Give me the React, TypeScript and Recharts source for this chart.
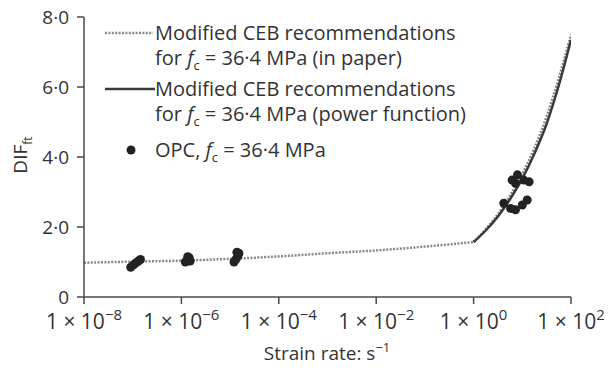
import React from 'react';
import { ComposedChart, Line, Scatter, XAxis, YAxis, Legend } from 'recharts';

// log10 of strain rate on x, DIF_ft on y
const FONT = '"Open Sans", "Noto Sans", sans-serif';
const INK = '#333';

const xTicks = [-8, -6, -4, -2, 0, 2];
const yTicks = [0, 2, 4, 6, 8];

// Modified CEB recommendations (in paper) – dotted
const paperLogRate = [-8, -7, -6, -5, -4, -3, -2, -1, 0, 0.25, 0.5, 0.75, 1, 1.25, 1.5, 1.75, 2];
const paperDif = [0.98, 1.01, 1.04, 1.09, 1.16, 1.25, 1.33, 1.44, 1.57, 1.94, 2.37, 2.9, 3.52, 4.26, 5.16, 6.26, 7.5];

// Modified CEB recommendations (power function) – solid
const powerLogRate = [0, 0.25, 0.5, 0.75, 1, 1.25, 1.5, 1.75, 2];
const powerDif = [1.57, 1.9, 2.3, 2.8, 3.38, 4.1, 4.95, 6.05, 7.35];

// OPC test results
const opcLogRate = [
  -7.04, -6.98, -6.93, -6.88, -6.84,
  -5.92, -5.88, -5.84, -5.87, -5.82,
  -4.92, -4.88, -4.84, -4.82, -4.86,
  0.79, 0.9, 1.03, 1.14, 0.86,
  0.62, 0.76, 0.86, 1.0, 1.1,
];
const opcDif = [
  0.85, 0.92, 0.98, 1.03, 1.07,
  1.0, 1.06, 1.12, 1.15, 1.03,
  1.0, 1.08, 1.17, 1.25, 1.28,
  3.34, 3.49, 3.34, 3.29, 3.25,
  2.68, 2.53, 2.49, 2.63, 2.77,
];

const paper = paperLogRate.map((x, i) => ({ x, y: paperDif[i] }));
const paperLow = paper.filter((p) => p.x <= 0);
const paperHigh = paper.filter((p) => p.x >= 0);
const power = powerLogRate.map((x, i) => ({ x, y: powerDif[i] }));
const opc = opcLogRate.map((x, i) => ({ x, y: opcDif[i] }));

const XTick = (props: any) => {
  const { x, y, payload } = props;
  const v = payload.value as number;
  const exp = v < 0 ? '\u2212' + Math.abs(v) : String(v);
  return (
    <text x={x} y={y + 25} textAnchor="middle" fontSize={21} fill={INK} fontFamily={FONT}>
      1 × 10<tspan dy={-9} fontSize={15}>{exp}</tspan>
    </text>
  );
};

const Fc = () => (
  <>
    <i>f</i>
    <span style={{ fontSize: 13, position: 'relative', top: 5 }}>c</span>
  </>
);

const LegendBox = () => (
  <div style={{ position: 'relative', width: 500, height: 170, fontFamily: FONT, fontSize: 20, color: INK, lineHeight: '25px' }}>
    <svg style={{ position: 'absolute', left: 105, top: 30 }} width={48} height={6}>
      <line x1={0} y1={3} x2={48} y2={3} stroke="#888" strokeWidth={2.5} strokeDasharray="2 1.4" />
    </svg>
    <div style={{ position: 'absolute', left: 155, top: 20, whiteSpace: 'nowrap' }}>
      Modified CEB recommendations<br />for <Fc /> = 36·4 MPa (in paper)
    </div>
    <svg style={{ position: 'absolute', left: 105, top: 86 }} width={50} height={6}>
      <line x1={0} y1={3} x2={50} y2={3} stroke="#3a3a3a" strokeWidth={2.5} />
    </svg>
    <div style={{ position: 'absolute', left: 155, top: 76, whiteSpace: 'nowrap' }}>
      Modified CEB recommendations<br />for <Fc /> = 36·4 MPa (power function)
    </div>
    <svg style={{ position: 'absolute', left: 125, top: 144 }} width={12} height={12}>
      <circle cx={6} cy={6} r={4.5} fill="#222" />
    </svg>
    <div style={{ position: 'absolute', left: 155, top: 137, whiteSpace: 'nowrap' }}>
      OPC, <Fc /> = 36·4 MPa
    </div>
  </div>
);

const Dot = (props: any) => <circle cx={props.cx} cy={props.cy} r={4.5} fill="#222" />;

export default function App() {
  return (
    <div style={{ position: 'absolute', left: 0, top: 0, width: 611, height: 370, background: '#fff' }}>
      <ComposedChart width={611} height={370} margin={{ top: 17, right: 40, bottom: 0, left: 0 }}>
        <XAxis
          type="number"
          dataKey="x"
          domain={[-8, 2]}
          ticks={xTicks}
          allowDataOverflow
          height={73}
          tickSize={7}
          tickMargin={0}
          tick={<XTick />}
          axisLine={{ stroke: '#4a4a4a', strokeWidth: 1.5 }}
          tickLine={{ stroke: '#4a4a4a', strokeWidth: 1.5 }}
        />
        <YAxis
          type="number"
          dataKey="y"
          domain={[0, 8]}
          ticks={yTicks}
          allowDataOverflow
          width={84}
          tickSize={7}
          tickMargin={8}
          tickFormatter={(v: number) => (v === 0 ? '0' : `${v}·0`)}
          tick={{ fontSize: 19, fill: INK, fontFamily: FONT }}
          axisLine={{ stroke: '#4a4a4a', strokeWidth: 1.5 }}
          tickLine={{ stroke: '#4a4a4a', strokeWidth: 1.5 }}
        />
        <Legend
          layout="vertical"
          align="center"
          verticalAlign="middle"
          wrapperStyle={{ left: 0, top: 0, width: 500, height: 170 }}
          content={() => <LegendBox />}
        />
        <Line data={paperLow} dataKey="y" type="monotone" stroke="#888" strokeWidth={2.5} strokeDasharray="2 1.4" dot={false} isAnimationActive={false} />
        <Line data={paperHigh} dataKey="y" type="monotone" stroke="#888" strokeWidth={2.5} strokeDasharray="2 1.4" dot={false} isAnimationActive={false} />
        <Line data={power} dataKey="y" type="monotone" stroke="#3a3a3a" strokeWidth={2.5} dot={false} isAnimationActive={false} />
        <Scatter data={opc} dataKey="y" shape={<Dot />} isAnimationActive={false} />
        <text x={27} y={155} transform="rotate(-90 27 155)" textAnchor="middle" fontSize={19} fill={INK} fontFamily={FONT}>
          DIF<tspan fontSize={12} dy={5}>ft</tspan>
        </text>
        <text x={327} y={360} textAnchor="middle" fontSize={19} fill={INK} fontFamily={FONT}>
          Strain rate: s<tspan fontSize={13} dy={-8}>−1</tspan>
        </text>
      </ComposedChart>
    </div>
  );
}
